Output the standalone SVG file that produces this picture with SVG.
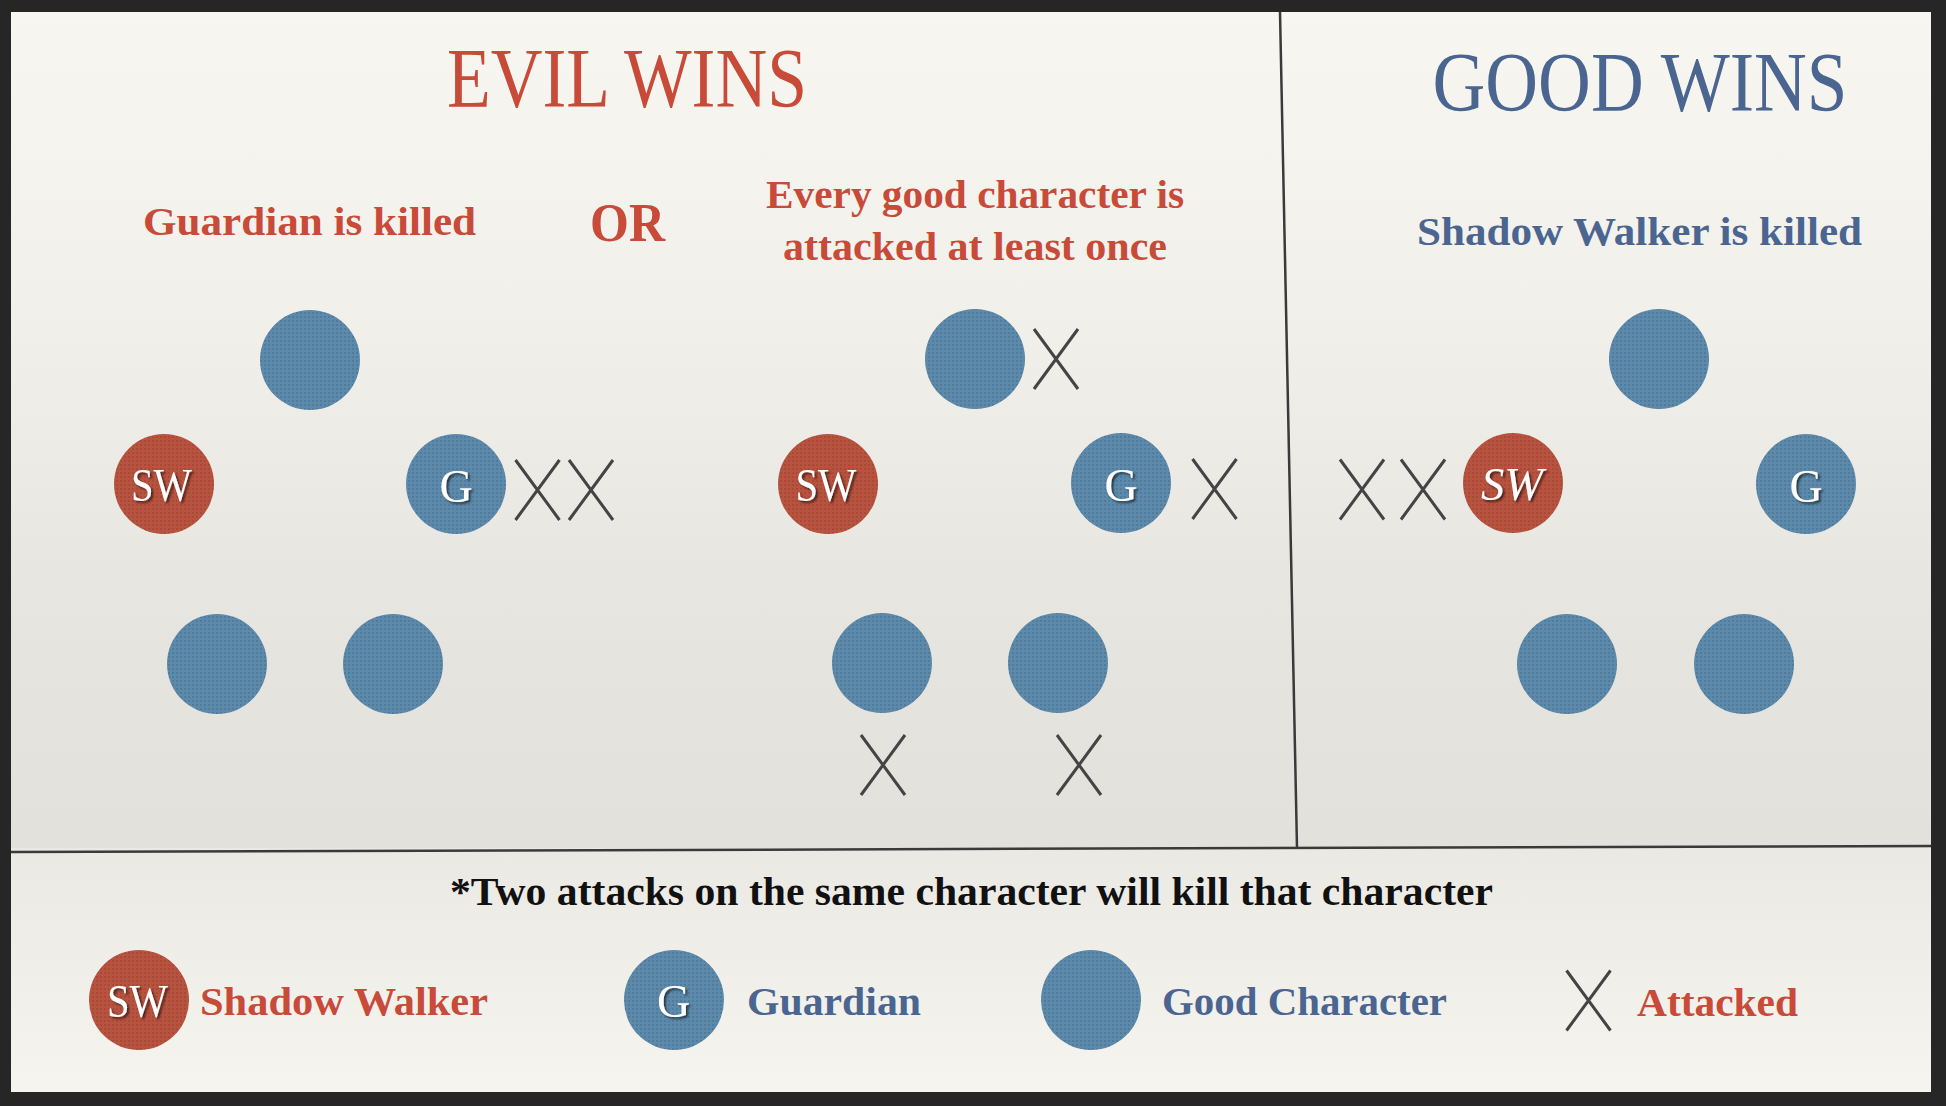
<svg xmlns="http://www.w3.org/2000/svg" xmlns:xlink="http://www.w3.org/1999/xlink" width="1946" height="1106" viewBox="0 0 1946 1106">
<defs>
<style>
.title{font-family:"Liberation Serif","Times New Roman",serif;font-size:84px}
.sub{font-family:"Liberation Serif","Times New Roman",serif;font-weight:bold;font-size:40px}
.foot{font-family:"Liberation Serif","Times New Roman",serif;font-weight:bold;font-size:40px;fill:#111}
.red{fill:#c84a38}
.blue{fill:#4b6591}
.xm{stroke:#444;stroke-width:3;fill:none}
.ctext{font-family:"Liberation Serif","Times New Roman",serif;font-size:46px;fill:#fff;filter:url(#sh)}
.div{stroke:#3a3a3a;stroke-width:2.5;fill:none}
.sw{fill:url(#redpat)}
.gc{fill:url(#bluepat)}
</style>
<linearGradient id="bgTop" x1="0" y1="12" x2="0" y2="852" gradientUnits="userSpaceOnUse">
<stop offset="0" stop-color="#f8f6f1"/>
<stop offset="0.35" stop-color="#f2f0eb"/>
<stop offset="0.75" stop-color="#e6e4df"/>
<stop offset="1" stop-color="#e3e1dc"/>
</linearGradient>
<linearGradient id="bgBot" x1="0" y1="852" x2="0" y2="1092" gradientUnits="userSpaceOnUse">
<stop offset="0" stop-color="#ebe9e4"/>
<stop offset="1" stop-color="#f6f4ef"/>
</linearGradient>
<pattern id="redpat" width="4" height="4" patternUnits="userSpaceOnUse">
<rect width="4" height="4" fill="#b8533f"/>
<rect width="2" height="2" fill="#a84a38"/>
</pattern>
<pattern id="bluepat" width="4" height="4" patternUnits="userSpaceOnUse">
<rect width="4" height="4" fill="#5d8aaa"/>
<rect width="2" height="2" fill="#4f7c9c"/>
</pattern>
<filter id="sh" x="-20%" y="-20%" width="150%" height="150%">
<feDropShadow dx="2" dy="2" stdDeviation="1" flood-color="#000" flood-opacity="0.6"/>
</filter>
<path id="xmark" d="M-22,-30L22,30M22,-30L-22,30"/>
</defs>

<rect x="0" y="0" width="1946" height="1106" fill="#262626"/>
<rect x="11" y="12" width="1920" height="840" fill="url(#bgTop)"/>
<rect x="11" y="848" width="1920" height="244" fill="url(#bgBot)"/>

<g id="lines">
<line class="div" x1="1280" y1="12" x2="1297" y2="848"/>
<line class="div" x1="11" y1="852" x2="1931" y2="846"/>
</g>

<g id="titles">
<text id="evil-title" class="title red" x="627" y="107" text-anchor="middle" textLength="360" lengthAdjust="spacingAndGlyphs">EVIL WINS</text>
<text id="good-title" class="title blue" x="1640" y="111" text-anchor="middle" textLength="415" lengthAdjust="spacingAndGlyphs">GOOD WINS</text>
</g>

<g id="conditions">
<text id="cond-guardian" class="sub red" x="309.5" y="235" text-anchor="middle" textLength="333" lengthAdjust="spacingAndGlyphs">Guardian is killed</text>
<text id="cond-or" class="sub red" x="627.5" y="241" text-anchor="middle" style="font-size:54px" textLength="75" lengthAdjust="spacingAndGlyphs">OR</text>
<text id="cond-every1" class="sub red" x="975" y="208" text-anchor="middle" textLength="418" lengthAdjust="spacingAndGlyphs">Every good character is</text>
<text id="cond-every2" class="sub red" x="975" y="260" text-anchor="middle" textLength="384" lengthAdjust="spacingAndGlyphs">attacked at least once</text>
<text id="cond-shadow" class="sub blue" x="1639.5" y="245" text-anchor="middle" textLength="445" lengthAdjust="spacingAndGlyphs">Shadow Walker is killed</text>
</g>

<!-- Panel 1: Guardian is killed -->
<g id="p1-top"><circle class="gc" cx="310" cy="360" r="50"/></g>
<g id="p1-sw"><circle class="sw" cx="164" cy="484" r="50"/><text class="ctext" x="161.5" y="501" text-anchor="middle" textLength="61" lengthAdjust="spacingAndGlyphs">SW</text></g>
<g id="p1-g"><circle class="gc" cx="456" cy="484" r="50"/><text class="ctext" x="456" y="502" text-anchor="middle">G</text></g>
<g id="p1-bl"><circle class="gc" cx="217" cy="664" r="50"/></g>
<g id="p1-br"><circle class="gc" cx="393" cy="664" r="50"/></g>
<g id="p1-x1"><use href="#xmark" class="xm" x="537.5" y="490"/></g>
<g id="p1-x2"><use href="#xmark" class="xm" x="591" y="490"/></g>

<!-- Panel 2: every good character attacked -->
<g id="p2-top"><circle class="gc" cx="975" cy="359" r="50"/></g>
<g id="p2-sw"><circle class="sw" cx="828" cy="484" r="50"/><text class="ctext" x="826" y="501" text-anchor="middle" textLength="61" lengthAdjust="spacingAndGlyphs">SW</text></g>
<g id="p2-g"><circle class="gc" cx="1121" cy="483" r="50"/><text class="ctext" x="1121" y="501" text-anchor="middle">G</text></g>
<g id="p2-bl"><circle class="gc" cx="882" cy="663" r="50"/></g>
<g id="p2-br"><circle class="gc" cx="1058" cy="663" r="50"/></g>
<g id="p2-x-top"><use href="#xmark" class="xm" x="1056" y="359"/></g>
<g id="p2-x-g"><use href="#xmark" class="xm" x="1214.5" y="489"/></g>
<g id="p2-x-bl"><use href="#xmark" class="xm" x="883" y="765"/></g>
<g id="p2-x-br"><use href="#xmark" class="xm" x="1079" y="765"/></g>

<!-- Panel 3: Good wins -->
<g id="p3-top"><circle class="gc" cx="1659" cy="359" r="50"/></g>
<g id="p3-sw"><circle class="sw" cx="1513" cy="483" r="50"/><text class="ctext" x="1512" y="500" text-anchor="middle" font-style="italic" textLength="62" lengthAdjust="spacingAndGlyphs">SW</text></g>
<g id="p3-g"><circle class="gc" cx="1806" cy="484" r="50"/><text class="ctext" x="1806" y="502" text-anchor="middle">G</text></g>
<g id="p3-bl"><circle class="gc" cx="1567" cy="664" r="50"/></g>
<g id="p3-br"><circle class="gc" cx="1744" cy="664" r="50"/></g>
<g id="p3-x1"><use href="#xmark" class="xm" x="1362" y="489.5"/></g>
<g id="p3-x2"><use href="#xmark" class="xm" x="1423" y="489.5"/></g>

<!-- Footer -->
<g id="footnote"><text class="foot" x="971.5" y="905" text-anchor="middle" textLength="1043" lengthAdjust="spacingAndGlyphs">*Two attacks on the same character will kill that character</text></g>

<g id="legend-sw"><circle class="sw" cx="139" cy="1000" r="50"/><text class="ctext" x="137.5" y="1017" text-anchor="middle" textLength="61" lengthAdjust="spacingAndGlyphs">SW</text><text class="sub red" x="200" y="1015" textLength="288" lengthAdjust="spacingAndGlyphs">Shadow Walker</text></g>
<g id="legend-g"><circle class="gc" cx="674" cy="1000" r="50"/><text class="ctext" x="673.5" y="1017" text-anchor="middle">G</text><text class="sub blue" x="747" y="1015" textLength="174" lengthAdjust="spacingAndGlyphs">Guardian</text></g>
<g id="legend-good"><circle class="gc" cx="1091" cy="1000" r="50"/><text class="sub blue" x="1162" y="1015" textLength="285" lengthAdjust="spacingAndGlyphs">Good Character</text></g>
<g id="legend-x"><use href="#xmark" class="xm" x="1588.5" y="1000.5"/><text class="sub red" x="1637" y="1016" textLength="161" lengthAdjust="spacingAndGlyphs">Attacked</text></g>
</svg>
